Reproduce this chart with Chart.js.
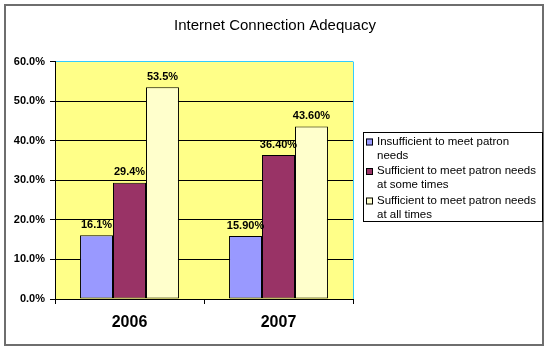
<!DOCTYPE html>
<html>
<head>
<meta charset="utf-8">
<script src="https://cdn.jsdelivr.net/npm/chart.js@4.4.1/dist/chart.umd.min.js"></script>
<style>
  html, body { margin: 0; padding: 0; background: #fff; }
  #wrap { position: relative; width: 550px; height: 353px; }
</style>
</head>
<body>
<div id="wrap"><canvas id="chart" width="550" height="353"></canvas></div>
<script>
  // chart data
  var chartTitle = 'Internet Connection Adequacy';
  var years = ['2006', '2007'];
  var seriesNames = [
    'Insufficient to meet patron needs',
    'Sufficient to meet patron needs at some times',
    'Sufficient to meet patron needs at all times'
  ];
  var insufficient = [16.1, 15.9];
  var someTimes = [29.4, 36.4];
  var allTimes = [53.5, 43.6];
  var labelDecimals = [1, 2]; // 2006 labels show one decimal, 2007 two
  var yTicks = [0, 10, 20, 30, 40, 50, 60];

  var colors = ['#9999FF', '#993366', '#FFFFCC'];
  var FONT = 'Arial, "Liberation Sans", sans-serif';

  // background, outer frame, title, plot fill
  var framePlugin = {
    id: 'frame',
    beforeDraw: function (chart) {
      var ctx = chart.ctx, a = chart.chartArea;
      ctx.save();
      ctx.fillStyle = '#fff';
      ctx.fillRect(0, 0, chart.width, chart.height);
      ctx.strokeStyle = '#6e6e6e';
      ctx.lineWidth = 2;
      ctx.strokeRect(5, 5, 538, 340);
      ctx.fillStyle = '#000';
      ctx.font = '15px ' + FONT;
      ctx.textAlign = 'center';
      ctx.textBaseline = 'middle';
      ctx.fillText(chartTitle, 275, 26);
      ctx.fillStyle = '#FFFF88';
      ctx.fillRect(a.left, a.top, a.right - a.left, a.bottom - a.top);
      ctx.restore();
    },
    beforeDatasetsDraw: function (chart) {
      var ctx = chart.ctx, a = chart.chartArea;
      ctx.save();
      ctx.strokeStyle = '#33CCFF';
      ctx.lineWidth = 1;
      ctx.beginPath();
      ctx.moveTo(Math.round(a.right) + 0.5, a.top);
      ctx.lineTo(Math.round(a.right) + 0.5, a.bottom);
      ctx.stroke();
      ctx.restore();
    }
  };

  // value labels above bars
  var valueLabelPlugin = {
    id: 'valueLabels',
    afterDatasetsDraw: function (chart) {
      var ctx = chart.ctx;
      ctx.save();
      ctx.font = 'bold 11px ' + FONT;
      ctx.fillStyle = '#000';
      ctx.textAlign = 'center';
      ctx.textBaseline = 'bottom';
      chart.data.datasets.forEach(function (ds, di) {
        chart.getDatasetMeta(di).data.forEach(function (bar, i) {
          var txt = ds.data[i].toFixed(labelDecimals[i]) + '%';
          ctx.fillText(txt, bar.x, bar.y - 5);
        });
      });
      ctx.restore();
    }
  };

  // boxed legend with wrapped text, on the right
  var boxLegendPlugin = {
    id: 'boxLegend',
    afterDraw: function (chart) {
      var ctx = chart.ctx;
      var x = 363, y = 132, w = 179, h = 89;
      var maxW = 160, lineH = 14, itemGap = 1.5;
      ctx.save();
      ctx.fillStyle = '#fff';
      ctx.fillRect(x, y, w, h);
      ctx.strokeStyle = '#000';
      ctx.lineWidth = 1;
      ctx.strokeRect(x + 0.5, y + 0.5, w, h);
      ctx.font = '11.5px ' + FONT;
      ctx.textBaseline = 'middle';
      var ty = y + 9.5;
      chart.data.datasets.forEach(function (ds, di) {
        var words = ds.label.split(' ');
        var lines = [], cur = '';
        words.forEach(function (wd) {
          var t = cur ? cur + ' ' + wd : wd;
          if (ctx.measureText(t).width > maxW && cur) { lines.push(cur); cur = wd; }
          else cur = t;
        });
        lines.push(cur);
        ctx.fillStyle = ds.backgroundColor;
        ctx.fillRect(x + 3, ty - 3, 7, 7);
        ctx.strokeStyle = '#000';
        ctx.strokeRect(x + 3.5, ty - 2.5, 6, 6);
        ctx.fillStyle = '#000';
        lines.forEach(function (ln, li) {
          ctx.fillText(ln, x + 14, ty + li * lineH);
        });
        ty += lines.length * lineH + itemGap;
      });
      ctx.restore();
    }
  };

  var datasets = [insufficient, someTimes, allTimes].map(function (vals, i) {
    return {
      label: seriesNames[i],
      data: vals,
      backgroundColor: colors[i],
      borderColor: '#000',
      borderWidth: 1,
      borderSkipped: false,
      categoryPercentage: 0.664,
      barPercentage: 1
    };
  });

  new Chart(document.getElementById('chart'), {
    type: 'bar',
    data: { labels: years, datasets: datasets },
    plugins: [framePlugin, valueLabelPlugin, boxLegendPlugin],
    options: {
      responsive: false,
      animation: false,
      layout: { padding: { left: 0, right: 197, top: 61.6, bottom: 10 } },
      plugins: {
        legend: { display: false },
        tooltip: { enabled: false },
        title: { display: false }
      },
      scales: {
        x: {
          afterFit: function (s) { s.height = 44; },
          border: { color: '#000', width: 1 },
          grid: { offset: true, drawOnChartArea: false, drawTicks: true, tickLength: 5, color: '#000' },
          ticks: { color: '#000', padding: 9, font: { family: FONT, size: 16, weight: 'bold' } }
        },
        y: {
          min: 0,
          max: 60,
          afterFit: function (s) { s.width = 55; },
          afterBuildTicks: function (s) { s.ticks = yTicks.map(function (v) { return { value: v }; }); },
          border: { color: '#000', width: 1 },
          grid: {
            color: function (c) { return c.tick && c.tick.value === 60 ? '#33CCFF' : '#000'; },
            tickColor: '#000',
            tickLength: 5
          },
          ticks: {
            color: '#000',
            padding: 5,
            font: { family: FONT, size: 11, weight: 'bold' },
            callback: function (v) { return v.toFixed(1) + '%'; }
          }
        }
      }
    }
  });
</script>
</body>
</html>
